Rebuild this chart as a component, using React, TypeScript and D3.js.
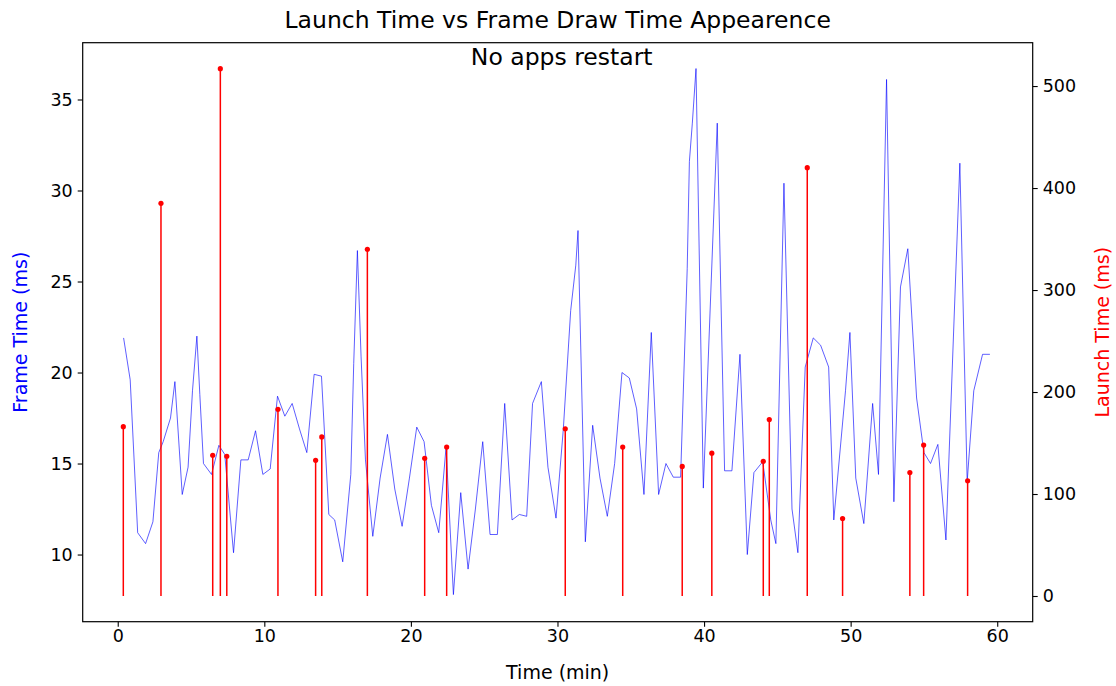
import React, { useEffect, useRef } from "react";
import * as d3 from "d3";

// frame draw time samples (minutes, ms)
const frameTimes = [
  0.4, 0.85, 1.36, 1.9, 2.4, 2.8, 3.1, 3.6, 3.9, 4.4, 4.8, 5.1, 5.4, 5.6, 5.85, 6.4, 6.9, 7.3, 7.9, 8.4,
  8.9, 9.4, 9.9, 10.4, 10.9, 11.4, 11.9, 12.4, 12.9, 13.4, 13.9, 14.4, 14.8, 15.35, 15.9, 16.1, 16.35, 16.6,
  16.9, 17.4, 17.9, 18.4, 18.9, 19.4, 19.9, 20.4, 20.9, 21.4, 21.9, 22.4, 22.9, 23.4, 23.9, 24.4, 24.9,
  25.4, 25.9, 26.4, 26.9, 27.4, 27.9, 28.3, 28.9, 29.35, 29.9, 30.4, 30.9, 31.25, 31.4, 31.9, 32.4, 32.9,
  33.4, 33.9, 34.4, 34.9, 35.4, 35.9, 36.4, 36.9, 37.4, 37.9, 38.4, 38.85, 39.0, 39.2, 39.45, 39.95, 40.9,
  41.4, 41.9, 42.45, 42.95, 43.4, 44.0, 44.55, 44.9, 45.45, 46.0, 46.4, 46.9, 47.45, 47.95, 48.5, 48.85,
  49.65, 49.95, 50.35, 50.9, 51.5, 51.9, 52.45, 52.95, 53.4, 53.9, 54.5, 55.0, 55.45, 55.95, 56.5, 57.45,
  57.95, 58.4, 59.0, 59.5,
];
const frameValues = [
  21.9, 19.6, 11.2, 10.6, 11.8, 15.6, 16.2, 17.5, 19.5, 13.3, 14.8, 19.0, 22.0, 18.8, 15.0, 14.4, 16.0, 15.5,
  10.1, 15.2, 15.2, 16.8, 14.4, 14.7, 18.7, 17.6, 18.3, 16.9, 15.6, 19.9, 19.8, 12.2, 11.9, 9.6, 14.4, 20.5,
  26.7, 20.9, 15.2, 11.0, 14.2, 16.6, 13.6, 11.55, 14.2, 17.0, 16.2, 12.7, 11.2, 15.9, 7.8, 13.4, 9.2, 12.5,
  16.2, 11.1, 11.1, 18.3, 11.9, 12.2, 12.1, 18.3, 19.5, 14.8, 12.0, 16.9, 23.4, 25.9, 27.8, 10.7, 17.1, 14.2,
  12.1, 15.0, 20.0, 19.7, 18.0, 13.3, 22.2, 13.3, 15.0, 14.25, 14.25, 25.7, 31.6, 33.7, 36.7, 13.65, 33.7,
  14.6, 14.6, 21.0, 10.0, 14.5, 15.1, 11.9, 10.6, 30.4, 12.5, 10.1, 20.3, 21.9, 21.5, 20.3, 11.9, 19.0, 22.2,
  14.2, 11.7, 18.3, 14.4, 36.1, 12.9, 24.7, 26.8, 18.6, 15.6, 15.0, 16.05, 10.8, 31.5, 14.0, 19.0, 21.0, 21.0,
];

// app launches (minutes, ms)
const launchTimes = [
  0.38, 2.95, 6.48, 7.0, 7.44, 10.93, 13.5, 13.92, 17.03, 20.94, 22.44, 30.53, 34.45, 38.51, 40.53, 44.04,
  44.45, 47.04, 49.45, 54.04, 54.98, 57.98,
];
const launchValues = [
  166, 385, 138, 517, 137, 183, 133, 156, 340, 135, 146, 164, 146, 127, 140, 132, 173, 420, 76, 121, 148, 113,
];

const xTicks = [0, 10, 20, 30, 40, 50, 60];
const leftTicks = [10, 15, 20, 25, 30, 35];
const rightTicks = [0, 100, 200, 300, 400, 500];

const W = 1116;
const H = 686;

const Chart = () => {
  const ref = useRef<SVGSVGElement | null>(null);

  useEffect(() => {
    const svg = d3.select(ref.current);
    svg.selectAll("*").remove();

    const left = 82.7, right = 1032.7, top = 42.7, bottom = 621.7;
    const font = "DejaVu Sans, sans-serif";

    const x = d3.scaleLinear().domain([-2.39, 62.42]).range([left, right]);
    const yL = d3.scaleLinear().domain([6.31, 38.12]).range([bottom, top]);
    const yR = d3.scaleLinear().domain([-25.2, 542.5]).range([bottom, top]);

    const frame = frameTimes.map((t, i) => ({ t, v: frameValues[i] }));
    const launches = launchTimes.map((t, i) => ({ t, v: launchValues[i] }));

    const plot = svg.append("g");

    const line = d3
      .line<{ t: number; v: number }>()
      .x((d) => x(d.t))
      .y((d) => yL(d.v));

    plot
      .append("path")
      .datum(frame)
      .attr("d", line)
      .attr("fill", "none")
      .attr("stroke", "#0000ff")
      .attr("stroke-opacity", 0.7)
      .attr("stroke-width", 0.9)
      .attr("stroke-linejoin", "round");

    plot
      .selectAll("line.stem")
      .data(launches)
      .join("line")
      .attr("class", "stem")
      .attr("x1", (d) => x(d.t))
      .attr("x2", (d) => x(d.t))
      .attr("y1", yR(0))
      .attr("y2", (d) => yR(d.v))
      .attr("stroke", "#ff0000")
      .attr("stroke-width", 1.5);

    plot
      .selectAll("circle.head")
      .data(launches)
      .join("circle")
      .attr("class", "head")
      .attr("cx", (d) => x(d.t))
      .attr("cy", (d) => yR(d.v))
      .attr("r", 2.6)
      .attr("fill", "#ff0000");

    // axes
    const axB = svg
      .append("g")
      .attr("transform", `translate(0,${bottom})`)
      .call(d3.axisBottom(x).tickValues(xTicks).tickSize(5).tickPadding(3).tickFormat(d3.format("d")));
    const axL = svg
      .append("g")
      .attr("transform", `translate(${left},0)`)
      .call(d3.axisLeft(yL).tickValues(leftTicks).tickSize(5).tickPadding(5).tickFormat(d3.format("d")));
    const axR = svg
      .append("g")
      .attr("transform", `translate(${right},0)`)
      .call(d3.axisRight(yR).tickValues(rightTicks).tickSize(5).tickPadding(5).tickFormat(d3.format("d")));

    [axB, axL, axR].forEach((g) => {
      g.select(".domain").remove();
      g.selectAll(".tick line").attr("stroke", "#000").attr("stroke-width", 1.1);
      g.selectAll(".tick text").attr("fill", "#000").attr("font-family", font).attr("font-size", 17.5);
    });

    svg
      .append("rect")
      .attr("x", left)
      .attr("y", top)
      .attr("width", right - left)
      .attr("height", bottom - top)
      .attr("fill", "none")
      .attr("stroke", "#000")
      .attr("stroke-width", 1.2);

    svg
      .append("text")
      .attr("x", (left + right) / 2)
      .attr("y", 28)
      .attr("text-anchor", "middle")
      .attr("font-family", font)
      .attr("font-size", 23.5)
      .attr("fill", "#000")
      .text("Launch Time vs Frame Draw Time Appearence");

    svg
      .append("text")
      .attr("x", (left + right) / 2 + 4)
      .attr("y", 65)
      .attr("text-anchor", "middle")
      .attr("font-family", font)
      .attr("font-size", 23.5)
      .attr("fill", "#000")
      .text("No apps restart");

    svg
      .append("text")
      .attr("x", (left + right) / 2)
      .attr("y", 679)
      .attr("text-anchor", "middle")
      .attr("font-family", font)
      .attr("font-size", 19)
      .attr("fill", "#000")
      .text("Time (min)");

    svg
      .append("text")
      .attr("transform", `translate(27,${(top + bottom) / 2}) rotate(-90)`)
      .attr("text-anchor", "middle")
      .attr("font-family", font)
      .attr("font-size", 19)
      .attr("fill", "#0000ff")
      .text("Frame Time (ms)");

    svg
      .append("text")
      .attr("transform", `translate(1109,${(top + bottom) / 2}) rotate(-90)`)
      .attr("text-anchor", "middle")
      .attr("font-family", font)
      .attr("font-size", 19)
      .attr("fill", "#ff0000")
      .text("Launch Time (ms)");
  }, []);

  return <svg ref={ref} width={W} height={H} style={{ display: "block", background: "#fff" }} />;
};

export default function App() {
  return (
    <div style={{ position: "absolute", left: 0, top: 0, width: W, height: H, background: "#fff" }}>
      <Chart />
    </div>
  );
}
